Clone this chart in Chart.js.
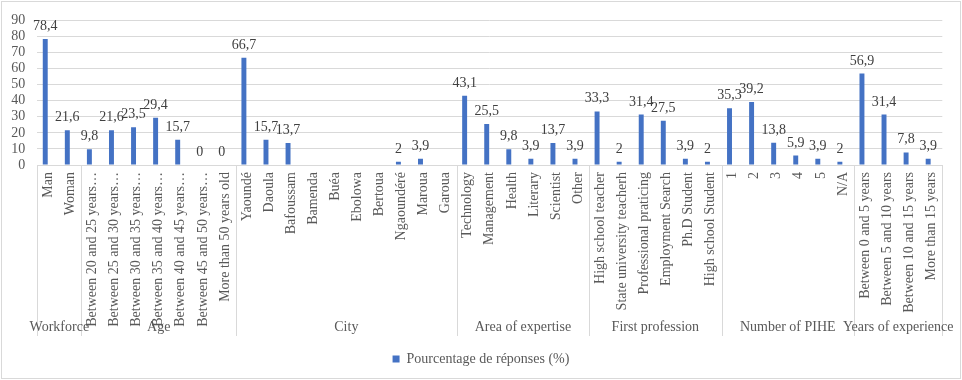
<!DOCTYPE html>
<html>
<head>
<meta charset="utf-8">
<script src="https://cdn.jsdelivr.net/npm/chart.js@4/dist/chart.umd.min.js"></script>
<style>
html,body{margin:0;padding:0;background:#fff;}
#wrap{width:962px;height:380px;}
</style>
</head>
<body>
<div id="wrap"><canvas id="c" width="962" height="380"></canvas></div>
<script>
const categories = ["Man","Woman","Between 20 and 25 years…","Between 25 and 30 years…","Between 30 and 35 years…","Between 35 and 40 years…","Between 40 and 45 years…","Between 45 and 50 years…","More than 50 years old","Yaoundé","Daoula","Bafoussam","Bamenda","Buéa","Ebolowa","Bertoua","Ngaoundéré","Maroua","Garoua","Technology","Management","Health","Literary","Scientist","Other","High school teacher","State university teacherh","Professional praticing","Employment Search","Ph.D Student","High school Student","1","2","3","4","5","N/A","Between 0 and 5 years","Between 5 and 10 years","Between 10 and 15 years","More than 15 years"];
const percentages = [78.4,21.6,9.8,21.6,23.5,29.4,15.7,0,0,66.7,15.7,13.7,null,null,null,null,2,3.9,null,43.1,25.5,9.8,3.9,13.7,3.9,33.3,2,31.4,27.5,3.9,2,35.3,39.2,13.8,5.9,3.9,2,56.9,31.4,7.8,3.9];
const groupNames = ["Workforce","Age","City","Area of expertise","First profession","Number of PIHE","Years of experience"];
const groupSizes = [2,7,10,6,6,6,4];
const yTicks = [0,10,20,30,40,50,60,70,80,90];
const seriesName = "Pourcentage de réponses (%)";

const FONT = 'Liberation Serif';
Chart.defaults.font.family = FONT;
Chart.defaults.font.size = 14;
Chart.defaults.color = '#595959';

const frame = {
  id:'frame',
  beforeDraw(chart){
    const ctx = chart.ctx;
    ctx.save();
    ctx.fillStyle = '#fff';
    ctx.fillRect(0,0,chart.width,chart.height);
    ctx.strokeStyle = '#d9d9d9';
    ctx.lineWidth = 1;
    ctx.strokeRect(1.5,1.5,chart.width-3,chart.height-3);
    ctx.restore();
  }
};

const groupAxis = {
  id:'groupAxis',
  afterDraw(chart){
    const ctx = chart.ctx, x = chart.scales.x, a = chart.chartArea;
    const bottom = a.bottom + 171;
    const bounds = [a.left];
    let idx = 0;
    groupSizes.forEach((n) => {
      idx += n;
      if (idx < categories.length) {
        bounds.push((x.getPixelForValue(idx-1) + x.getPixelForValue(idx)) / 2);
      } else {
        bounds.push(a.right);
      }
    });
    ctx.save();
    ctx.strokeStyle = '#d9d9d9';
    ctx.lineWidth = 1;
    bounds.forEach(b => {
      const px = Math.round(b) + 0.5;
      ctx.beginPath();
      ctx.moveTo(px, a.bottom);
      ctx.lineTo(px, bottom);
      ctx.stroke();
    });
    ctx.fillStyle = '#595959';
    ctx.font = '14px ' + FONT;
    ctx.textAlign = 'center';
    ctx.textBaseline = 'middle';
    groupNames.forEach((g, i) => {
      ctx.fillText(g, (bounds[i] + bounds[i+1]) / 2, a.bottom + 162);
    });
    ctx.restore();
  }
};

const valueLabels = {
  id:'valueLabels',
  afterDatasetsDraw(chart){
    const ctx = chart.ctx;
    const meta = chart.getDatasetMeta(0);
    ctx.save();
    ctx.fillStyle = '#404040';
    ctx.font = '14px ' + FONT;
    ctx.textAlign = 'center';
    ctx.textBaseline = 'alphabetic';
    meta.data.forEach((el, i) => {
      const v = percentages[i];
      if (v === null || v === undefined) return;
      ctx.fillText(String(v).replace('.', ','), el.x, el.y - 9);
    });
    ctx.restore();
  }
};

new Chart(document.getElementById('c'), {
  type:'bar',
  data:{
    labels: categories,
    datasets:[
      {label: seriesName, data: percentages, backgroundColor:'#4472C4', borderWidth:0},
      {label: '', data: categories.map(() => null), backgroundColor:'#ED7D31'}
    ]
  },
  options:{
    responsive:false,
    animation:false,
    devicePixelRatio:1,
    categoryPercentage:0.56,
    barPercentage:0.8,
    layout:{padding:{top:19,right:0,left:0,bottom:4}},
    plugins:{
      legend:{
        position:'bottom',
        labels:{
          filter:(item) => item.datasetIndex === 0,
          boxWidth:7, boxHeight:7, padding:10,
          font:{size:14, family:FONT}, color:'#595959'
        }
      },
      tooltip:{enabled:false}
    },
    scales:{
      x:{
        offset:true,
        grid:{display:false, drawTicks:false},
        border:{color:'#d9d9d9'},
        ticks:{autoSkip:false, minRotation:90, maxRotation:90, padding:7, color:'#595959', font:{size:14, family:FONT}},
        afterFit(s){ s.height = 177; }
      },
      y:{
        min:0, max:90,
        afterBuildTicks(s){ s.ticks = yTicks.map(v => ({value:v})); },
        grid:{color:'#d9d9d9', drawTicks:false},
        border:{display:false},
        ticks:{autoSkip:false, padding:12, color:'#595959', font:{size:14, family:FONT}},
        afterFit(s){ s.width = 37.3; }
      },
      yRight:{
        position:'right',
        display:true,
        min:0, max:90,
        grid:{display:false, drawTicks:false},
        border:{display:false},
        ticks:{display:false},
        afterFit(s){ s.width = 19.7; }
      }
    }
  },
  plugins:[frame, groupAxis, valueLabels]
});
</script>
</body>
</html>
